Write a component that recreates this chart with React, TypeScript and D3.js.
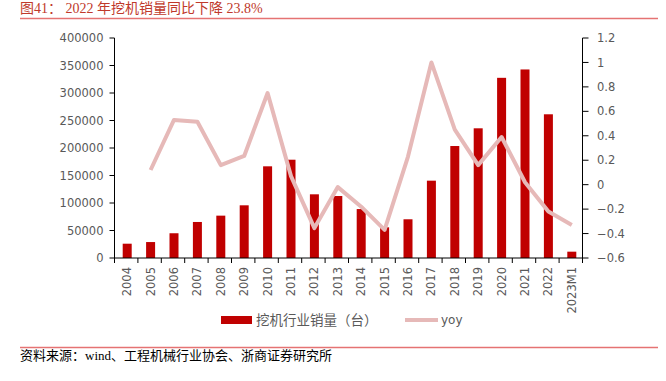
import React from "react";
import * as d3 from "d3";

const categories = ["2004","2005","2006","2007","2008","2009","2010","2011","2012","2013","2014","2015","2016","2017","2018","2019","2020","2021","2022","2023M1"];
const sales = [26000,29000,45000,65500,77000,95800,166700,178700,115800,112700,89000,55800,70400,140600,203600,235800,327600,342800,261300,11500];
const yoy: (number | null)[] = [null,0.12,0.53,0.515,0.16,0.235,0.75,0.07,-0.355,-0.02,-0.18,-0.37,0.23,1.0,0.45,0.16,0.39,0.02,-0.22,-0.33];
const leftTicks = [0,50000,100000,150000,200000,250000,300000,350000,400000];
const rightTicks = [-0.6,-0.4,-0.2,0,0.2,0.4,0.6,0.8,1,1.2];

const W = 666, H = 381;
const X0 = 114.5, X1 = 582.5, Y0 = 38, Y1 = 258;
const tickFont = "'DejaVu Sans', sans-serif";
const gray = "#595959";

export default function App() {
  const x = d3.scaleBand<string>().domain(categories).range([X0, X1]).paddingInner(0).paddingOuter(0);
  const yL = d3.scaleLinear().domain([0, 400000]).range([Y1, Y0]);
  const yR = d3.scaleLinear().domain([-0.6, 1.2]).range([Y1, Y0]);
  const barW = 9;
  const lineGen = d3.line<[string, number | null]>()
    .defined(d => d[1] !== null)
    .x(d => (x(d[0]) as number) + x.bandwidth() / 2 + 1)
    .y(d => yR(d[1] as number));
  const pts = categories.map((c, i) => [c, yoy[i]] as [string, number | null]);
  const bounds = categories.map(c => x(c) as number).concat([X1]);

  return (
    <svg width={W} height={H} style={{ position: "absolute", left: 0, top: 0, background: "#fff" }}>
      <text x={20} y={13} fontFamily="'Liberation Serif', 'Noto Sans CJK SC', serif" fontSize={14} fill="#C0392B">图41： 2022 年挖机销量同比下降 23.8%</text>
      <line x1={20} x2={658} y1={18.5} y2={18.5} stroke="#E57373" strokeWidth={1.5} />

      {sales.map((v, i) => (
        <rect key={i} x={(x(categories[i]) as number) + x.bandwidth() / 2 - barW / 2 + 1} y={yL(v)} width={barW} height={Y1 - yL(v)} fill="#C00000" />
      ))}
      <path d={lineGen(pts) || ""} fill="none" stroke="#E6B9B8" strokeWidth={4} strokeLinejoin="round" />

      {/* left axis */}
      <line x1={X0} x2={X0} y1={Y0} y2={Y1} stroke="#000" strokeWidth={1} />
      {leftTicks.map(t => (
        <g key={t}>
          <line x1={X0 - 5} x2={X0} y1={yL(t)} y2={yL(t)} stroke="#000" />
          <text x={103.5} y={yL(t)} dy="0.36em" textAnchor="end" fontFamily={tickFont} fontSize={11.5} fill={gray}>{t}</text>
        </g>
      ))}
      {/* right axis */}
      <line x1={X1} x2={X1} y1={Y0} y2={Y1} stroke="#000" strokeWidth={1} />
      {rightTicks.map(t => (
        <g key={t}>
          <line x1={X1} x2={X1 + 6} y1={yR(t)} y2={yR(t)} stroke="#000" />
          <text x={597} y={yR(t)} dy="0.36em" textAnchor="start" fontFamily={tickFont} fontSize={11.5} fill={gray}>{d3.format("")(Math.round(t * 10) / 10)}</text>
        </g>
      ))}
      {/* bottom axis */}
      <line x1={X0} x2={X1} y1={Y1} y2={Y1} stroke="#000" strokeWidth={1} />
      {bounds.map((b, i) => (
        <line key={i} x1={b} x2={b} y1={Y1} y2={Y1 + 5} stroke="#000" />
      ))}
      {categories.map(c => {
        const cx = (x(c) as number) + x.bandwidth() / 2 + 1;
        return (
          <text key={c} transform={`translate(${cx + 4},${267}) rotate(-90)`} textAnchor="end" fontFamily={tickFont} fontSize={11.5} fill={gray}>{c}</text>
        );
      })}

      {/* legend */}
      <rect x={221} y={316} width={31} height={8} fill="#C00000" />
      <text x={256} y={320} dy="0.36em" fontFamily="'Noto Sans CJK SC', sans-serif" fontSize={13.5} fill={gray}>挖机行业销量（台）</text>
      <line x1={405} x2={438} y1={320} y2={320} stroke="#E6B9B8" strokeWidth={4} />
      <text x={441} y={320} dy="0.36em" fontFamily={tickFont} fontSize={12} fill={gray}>yoy</text>

      <line x1={20} x2={658} y1={347.5} y2={347.5} stroke="#E57373" strokeWidth={1.5} />
      <text x={20} y={360} fontFamily="'Liberation Serif', 'Noto Sans CJK SC', serif" fontSize={13} fill="#000">资料来源：wind、工程机械行业协会、浙商证券研究所</text>
    </svg>
  );
}
